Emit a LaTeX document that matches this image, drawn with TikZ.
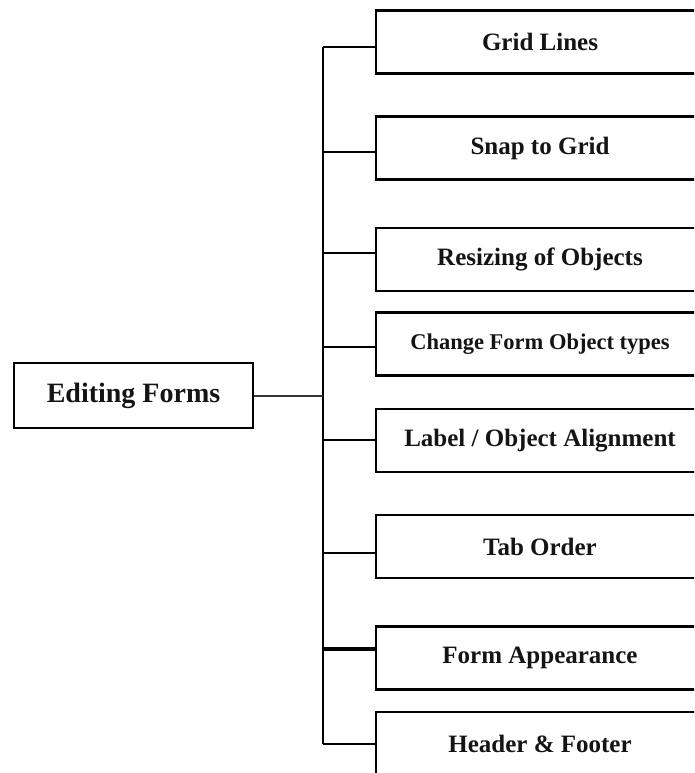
\documentclass[tikz,border=0pt]{standalone}
\usepackage{fontspec}
\setmainfont{Liberation Serif}

\begin{document}
\begin{tikzpicture}[x=1pt, y=-1pt,
  every node/.style={draw, line width=2.7pt, font=\bfseries, text=black!92},
  topic/.style={minimum width=239pt, minimum height=65pt, font=\fontsize{28}{32}\selectfont\bfseries},
  part/.style={minimum width=328pt, minimum height=63pt, font=\fontsize{25}{29}\selectfont\bfseries},
  link/.style={line width=2.7pt}]
  \useasboundingbox (0,0) rectangle (694,773);
  \clip (0,0) rectangle (694,773);

  \node[topic] (edit) at (133.5,395.5) {Editing Forms};

  \node[part] (grid)   at (540,42)    {Grid Lines};
  \node[part] (snap)   at (540,148)   {Snap to Grid};
  \node[part] (resize) at (540,259.5) {Resizing of Objects};
  \node[part, font=\fontsize{22.5}{26}\selectfont\bfseries] (change) at (540,344) {Change Form Object types};
  \node[part] (align)  at (540,440.5) {Label / Object Alignment};
  \node[part] (tab)    at (540,546.5) {Tab Order};
  \node[part] (look)   at (540,658)   {Form Appearance};
  \node[part] (header) at (540,743.5) {Header \& Footer};

  % taps on the trunk
  \coordinate (t1) at (323,47);
  \coordinate (t2) at (323,152);
  \coordinate (t3) at (323,253);
  \coordinate (t4) at (323,347);
  \coordinate (t5) at (323,440);
  \coordinate (t6) at (323,553);
  \coordinate (t7) at (323,649);
  \coordinate (t8) at (323,744);

  \draw[link] (t1) -- (t8);
  \draw[line width=2pt, black!80] (edit.east) -- (edit.east -| t1);

  \draw[link] (t1) -- (t1 -| grid.west);
  \draw[link] (t2) -- (t2 -| snap.west);
  \draw[link] (t3) -- (t3 -| resize.west);
  \draw[link] (t4) -- (t4 -| change.west);
  \draw[link] (t5) -- (t5 -| align.west);
  \draw[link] (t6) -- (t6 -| tab.west);
  \draw[line width=3.8pt] (t7) -- (t7 -| look.west);
  \draw[link] (t8) -- (t8 -| header.west);
\end{tikzpicture}
\end{document}
